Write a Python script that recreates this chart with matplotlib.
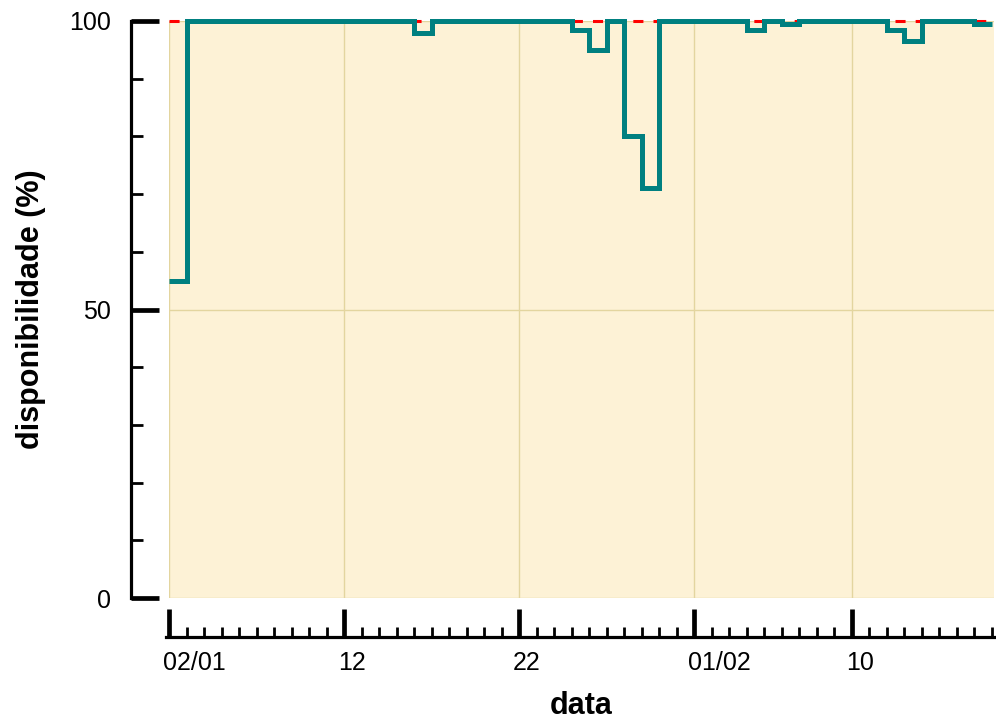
import matplotlib
matplotlib.use('Agg')
import matplotlib.pyplot as plt
import matplotlib.dates as mdates
import matplotlib.transforms as mtransforms
from matplotlib.ticker import MultipleLocator, FixedLocator
import pandas as pd

# daily availability (%) from 02/01 onwards
start_day = '2024-01-02'
disponibilidade = [
    55, 100, 100, 100, 100, 100, 100, 100, 100, 100,
    100, 100, 100, 100, 98, 100, 100, 100, 100, 100,
    100, 100, 100, 98.5, 95, 100, 80, 71, 100, 100,
    100, 100, 100, 98.5, 100, 99.5, 100, 100, 100, 100,
    100, 98.5, 96.5, 100, 100, 100, 99.5,
]
meta = 100
tick_dates = ['2024-01-02', '2024-01-12', '2024-01-22', '2024-02-01', '2024-02-10']
tick_labels = ['02/01', '12', '22', '01/02', '10']

plt.rcParams['font.family'] = ['Liberation Sans', 'DejaVu Sans']

days = pd.date_range(start_day, periods=len(disponibilidade) + 1, freq='D')
edges = mdates.date2num(days.to_pydatetime())

fig = plt.figure(figsize=(9.96, 7.22), dpi=100)
ax = fig.add_axes([169 / 996, 1 - 598 / 722, 825 / 996, 577 / 722])
ax.set_facecolor('#fdf2d6')

# target line and availability steps
ax.axhline(meta, color='red', lw=2.2, linestyle=(0, (3.3, 3.3)), zorder=2, clip_on=False)
ax.stairs(disponibilidade, edges, baseline=None, color='#008080', lw=3.6,
          zorder=3, clip_on=False)

ax.set_ylim(0, 100)
ax.set_xlim(edges[0], edges[0] + 47.12)

# grid only at major ticks
ax.grid(True, which='major', color='#e3d59f', lw=1.0, zorder=1)
ax.set_axisbelow(True)

# spines detached from the plot area
for side in ['top', 'right']:
    ax.spines[side].set_visible(False)
ax.spines['left'].set_position(('outward', 27.5))
ax.spines['bottom'].set_position(('outward', 28))
ax.spines['left'].set_linewidth(2.3)
ax.spines['bottom'].set_linewidth(2.3)
ax.spines['left'].set_bounds(0, 100)
ax.spines['bottom'].set_bounds(edges[0] - 0.15, edges[0] + 47.12)

ax.yaxis.set_major_locator(FixedLocator([0, 50, 100]))
ax.yaxis.set_minor_locator(MultipleLocator(10))
ax.xaxis.set_major_locator(FixedLocator(mdates.date2num(pd.to_datetime(tick_dates).to_pydatetime())))
ax.xaxis.set_minor_locator(mdates.DayLocator())
ax.set_xticklabels(tick_labels)

ax.tick_params(axis='both', which='major', direction='in', length=20, width=3.4,
               labelsize=18, color='black')
ax.tick_params(axis='both', which='minor', direction='in', length=8.5, width=2.0)
ax.tick_params(axis='x', which='minor', length=7.5)
ax.tick_params(axis='y', which='major', pad=14)
ax.tick_params(axis='x', which='major', pad=10)

offset = mtransforms.ScaledTranslation(-6 / 100, 0, fig.dpi_scale_trans)
for lbl in ax.get_xticklabels():
    lbl.set_horizontalalignment('left')
    lbl.set_transform(lbl.get_transform() + offset)

ax.set_xlabel('data', fontsize=22, fontweight='bold', labelpad=12)
ax.set_ylabel('disponibilidade (%)', fontsize=22, fontweight='bold', labelpad=17)

fig.savefig('out.png', dpi=100)
